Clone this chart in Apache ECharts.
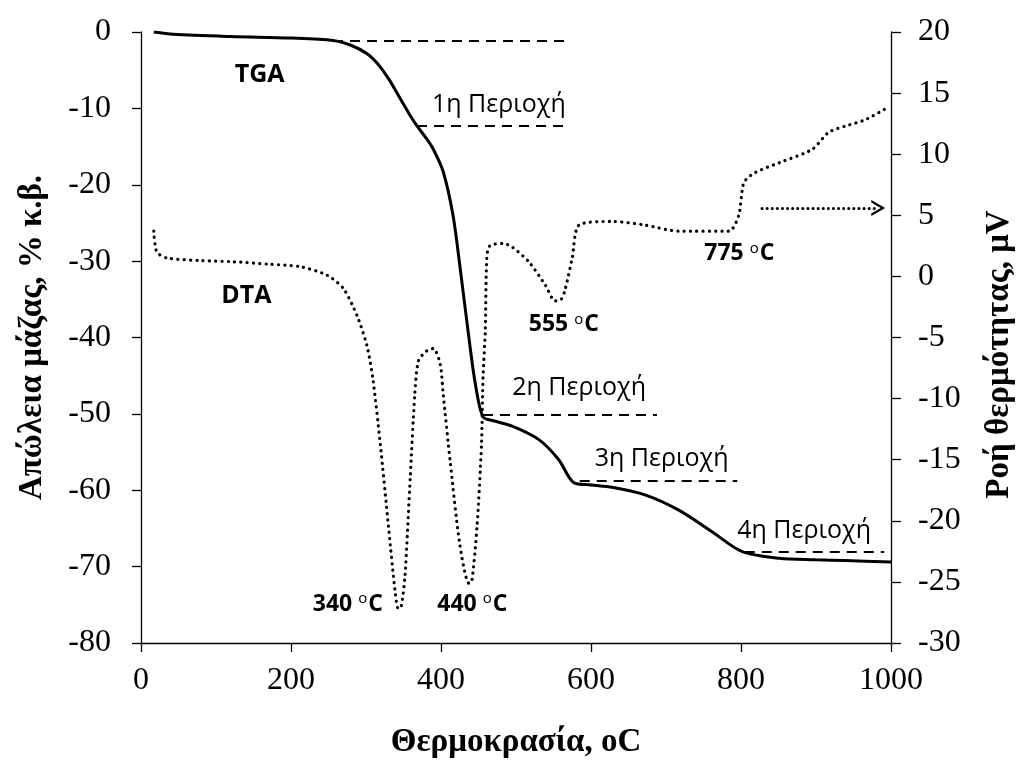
<!DOCTYPE html>
<html><head><meta charset="utf-8">
<script src="https://cdn.jsdelivr.net/npm/echarts@6/dist/echarts.min.js"></script>
<style>html,body{margin:0;padding:0;background:#fff}#c{width:1024px;height:764px}</style>
</head><body><div id="c"></div>
<script>
// Temperature (°C) and TGA mass loss (% w/w)
const tgaX = [17, 43, 120, 200, 256, 279, 301, 315, 330, 345, 358, 368, 381, 390, 403, 416, 425, 439, 446, 456, 470, 495, 531, 557, 577, 600, 628, 672, 717, 761, 801, 851, 900, 939, 1000];
const tgaY = [0, -0.3, -0.6, -0.8, -1.1, -1.7, -2.8, -4.1, -6.1, -8.6, -10.8, -12.3, -14, -15.4, -18.3, -24, -30.5, -41.4, -46.2, -50.4, -50.9, -51.6, -53.4, -56, -59, -59.3, -59.6, -60.6, -62.6, -65.4, -68, -68.9, -69.1, -69.2, -69.4];
// Temperature (°C) and DTA heat flow (μV)
const dtaX = [17, 21, 35, 80, 123, 170, 212, 248, 270, 288, 301, 309, 319, 330, 339, 343, 347, 352, 359, 365, 370, 381, 390, 399, 403, 412, 425, 437, 441, 448, 454, 456, 459, 461, 465, 483, 495, 517, 539, 552, 560, 565, 575, 584, 628, 672, 717, 784, 797, 804, 819, 851, 895, 917, 939, 965, 995];
const dtaY = [3.7, 2.0, 1.5, 1.3, 1.2, 1.0, 0.8, 0.1, -1, -3.2, -5.6, -8.3, -13.7, -20.5, -25.9, -27.2, -27.0, -24.5, -16.4, -9.7, -6.9, -6.1, -5.9, -7.2, -9.7, -15, -21.9, -25.1, -25.0, -20.5, -13.7, -8.3, -4.5, 1.5, 2.5, 2.7, 2.4, 1.2, -0.7, -2.0, -1.9, -1.2, 1.5, 4.2, 4.5, 4.2, 3.7, 3.7, 5.0, 7.7, 8.5, 9.3, 10.4, 11.8, 12.3, 12.8, 13.8];
// Region boundary dashed lines [x0, x1, y] on mass axis
const regionLines = [[256, 565, -1.1], [368, 572, -12.3], [456, 688, -50.1], [585, 795, -58.8], [805, 991, -68.0]];
// Text annotations [x, y (mass axis), text]
const regionLabels = [[388, -9.6, '1η Περιοχή'], [495, -46.6, '2η Περιοχή'], [605, -55.9, '3η Περιοχή'], [795, -65.3, '4η Περιοχή']];
const curveLabels = [[125, -5.6, 'TGA'], [107, -34.6, 'DTA']];
const peakLabels = [[229, -74.9, '340'], [395, -74.9, '440'], [517, -38.3, '555'], [751, -29.0, '775']];
// Arrow pointing to heat flow axis [x0, x1, y(μV)]
const arrowLine = [828, 983, 5.6];

const serif = 'Liberation Serif';
const sans = 'Open Sans';
const chart = echarts.init(document.getElementById('c'));
const axisLineStyle = {color: '#000', width: 1.3};
const titleStyle = {fontFamily: serif, fontWeight: 'bold', fontSize: 33, color: '#000'};
chart.setOption({
  animation: false,
  grid: {left: 141, right: 133, top: 32, bottom: 117},
  xAxis: {
    type: 'value', min: 0, max: 1000, interval: 200,
    name: 'Θερμοκρασία, oC', nameLocation: 'middle', nameGap: 83,
    nameTextStyle: titleStyle,
    axisLine: {show: true, onZero: false, lineStyle: axisLineStyle},
    axisTick: {show: true, inside: false, length: 9, lineStyle: axisLineStyle},
    axisLabel: {fontFamily: serif, fontSize: 32, color: '#000', margin: 22, formatter: v => String(v)},
    splitLine: {show: false}
  },
  yAxis: [{
    type: 'value', min: -80, max: 0, interval: 10, position: 'left',
    name: 'Απώλεια μάζας, % κ.β.', nameLocation: 'middle', nameGap: 92, nameRotate: 90,
    nameTextStyle: titleStyle,
    axisLine: {show: true, lineStyle: axisLineStyle},
    axisTick: {show: true, length: 9, lineStyle: axisLineStyle},
    axisLabel: {fontFamily: serif, fontSize: 32, color: '#000', margin: 30},
    splitLine: {show: false}
  }, {
    type: 'value', min: -30, max: 20, interval: 5, position: 'right',
    name: 'Ροή θερμότητας, μV', nameLocation: 'middle', nameGap: 92, nameRotate: 90,
    nameTextStyle: Object.assign({}, titleStyle, {padding: [0, 34, 0, 0]}),
    axisLine: {show: true, lineStyle: axisLineStyle},
    axisTick: {show: true, length: 10, lineStyle: axisLineStyle},
    axisLabel: {fontFamily: serif, fontSize: 32, color: '#000', margin: 27},
    splitLine: {show: false}
  }],
  series: [{
    type: 'line', name: 'TGA', yAxisIndex: 0, smooth: 0.3, showSymbol: false,
    data: tgaX.map((x, i) => [x, tgaY[i]]),
    lineStyle: {color: '#000', width: 3},
    markLine: {
      silent: true, symbol: ['none', 'none'],
      lineStyle: {color: '#000', width: 2, type: [10, 7]},
      label: {show: false},
      data: regionLines.map(r => [{coord: [r[0], r[2]]}, {coord: [r[1], r[2]]}])
    }
  }, {
    type: 'line', name: 'DTA', yAxisIndex: 1, smooth: 0.25, showSymbol: false,
    data: dtaX.map((x, i) => [x, dtaY[i]]),
    lineStyle: {color: '#000', width: 3.2, type: [0.1, 6.2], cap: 'round'},
    markLine: {
      silent: true,
      symbol: ['none', 'path://M0,10 L5,0 L10,10 L8.4,10 L5,3.2 L1.6,10 Z'],
      symbolSize: [16, 14],
      lineStyle: {color: '#000', width: 3, type: [0.1, 5], cap: 'round'},
      label: {show: false},
      data: [[{coord: [arrowLine[0], arrowLine[2]]}, {coord: [arrowLine[1], arrowLine[2]]}]]
    }
  }, {
    type: 'scatter', yAxisIndex: 0, symbolSize: 0, silent: true, itemStyle: {opacity: 1},
    data: regionLabels.map(r => ({value: [r[0], r[1]], label: {formatter: r[2]}})),
    label: {show: true, position: [0, 0], align: 'left', verticalAlign: 'middle',
      fontFamily: sans, fontSize: 25, color: '#000'}
  }, {
    type: 'scatter', yAxisIndex: 0, symbolSize: 0, silent: true, itemStyle: {opacity: 1},
    data: curveLabels.map(r => ({value: [r[0], r[1]], label: {formatter: r[2]}})),
    label: {show: true, position: [0, 0], align: 'left', verticalAlign: 'middle',
      fontFamily: sans, fontWeight: 'bold', fontSize: 25, color: '#000'}
  }, {
    type: 'scatter', yAxisIndex: 0, symbolSize: 0, silent: true, itemStyle: {opacity: 1},
    data: peakLabels.map(r => ({value: [r[0], r[1]], label: {formatter: '{b|' + r[2] + ' }{s|o}{b|C}'}})),
    label: {show: true, position: [0, 0], align: 'left', verticalAlign: 'middle',
      rich: {
        b: {fontFamily: sans, fontWeight: 'bold', fontSize: 23, color: '#000'},
        s: {fontFamily: sans, fontSize: 15, color: '#000', verticalAlign: 'top', padding: [0, 1, 10, 0]}
      }}
  }]
});
</script></body></html>
